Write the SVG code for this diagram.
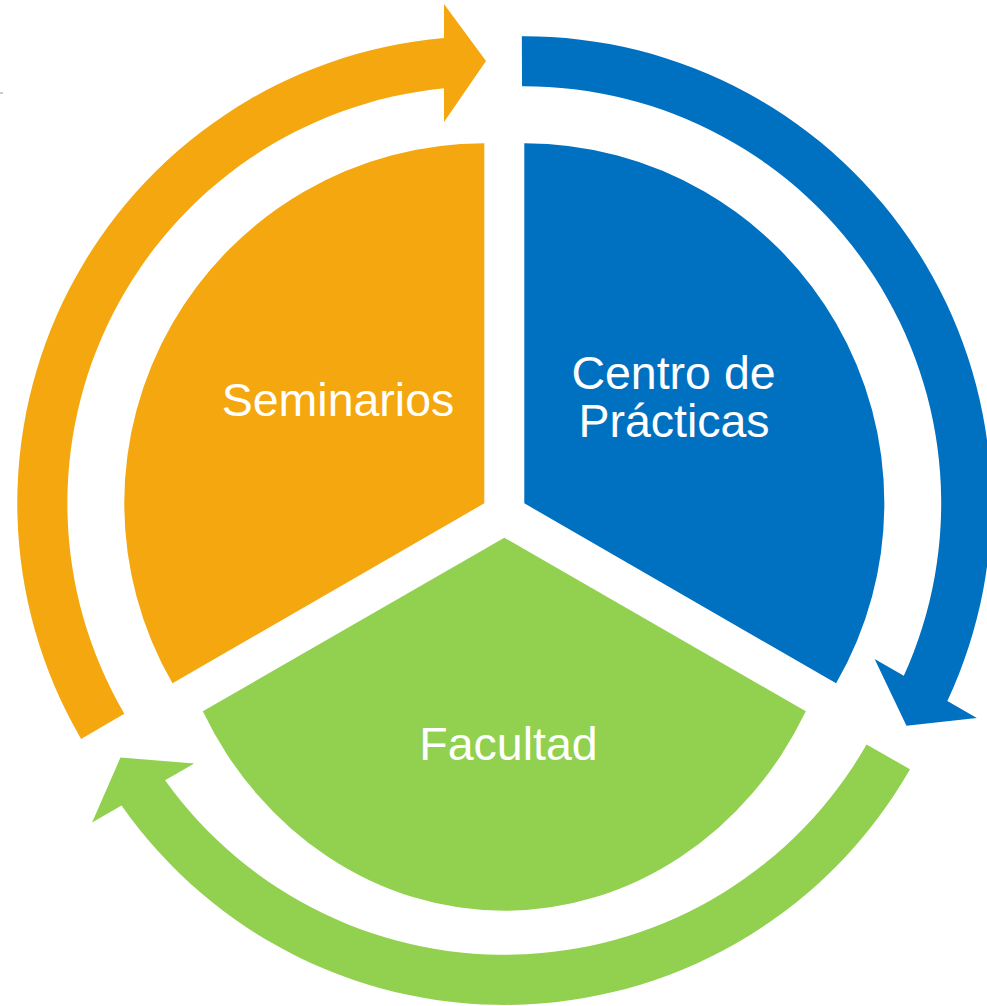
<svg xmlns="http://www.w3.org/2000/svg" xmlns:xlink="http://www.w3.org/1999/xlink" width="987" height="1006" viewBox="0 0 987 1006">
  <style>
    .lbl { font-family: "Liberation Sans", Arial, sans-serif; font-size: 46.5px; fill: #FFFFFF; text-anchor: middle; }
    .orange { fill: #F4A70E; }
    .blue { fill: #0071C1; }
    .green { fill: #92D050; }
  </style>
  <defs>
    <path id="arrow" d="M 81.1,738.9 A 467 467 0 0 1 444,38 L 444,4 L 486,61 L 444,122 L 444,88.3 A 417 417 0 0 0 124.3,713.7 Z"/>
  </defs>
  <rect width="987" height="1006" fill="#FFFFFF"/>
  <rect x="0" y="92.5" width="3" height="1" fill="#9A98B8"/>

  <g id="connectors">
    <use xlink:href="#arrow" href="#arrow" class="orange"/>
    <use xlink:href="#arrow" href="#arrow" class="blue" transform="rotate(120 504.3 514.8)"/>
    <use xlink:href="#arrow" href="#arrow" class="green" transform="rotate(240 504.3 514.8)"/>
  </g>

  <g id="seminarios">
    <path class="orange" d="M 484.3,503.3 L 172.5,683.3 A 360 360 0 0 1 484.3,143.3 Z"/>
    <text class="lbl" x="338" y="416">Seminarios</text>
  </g>

  <g id="centro-de-practicas">
    <path class="blue" d="M 524.3,503.3 L 524.3,143.3 A 360 360 0 0 1 836.1,683.3 Z"/>
    <text class="lbl" x="673.5" y="389">Centro de</text>
    <text class="lbl" x="674" y="436.7">Prácticas</text>
  </g>

  <g id="facultad">
    <path class="green" d="M 504.3,537.7 L 202.8,711.3 A 340.6 373 0 0 0 805.8,711.3 Z"/>
    <text class="lbl" x="508.5" y="760">Facultad</text>
  </g>
</svg>
